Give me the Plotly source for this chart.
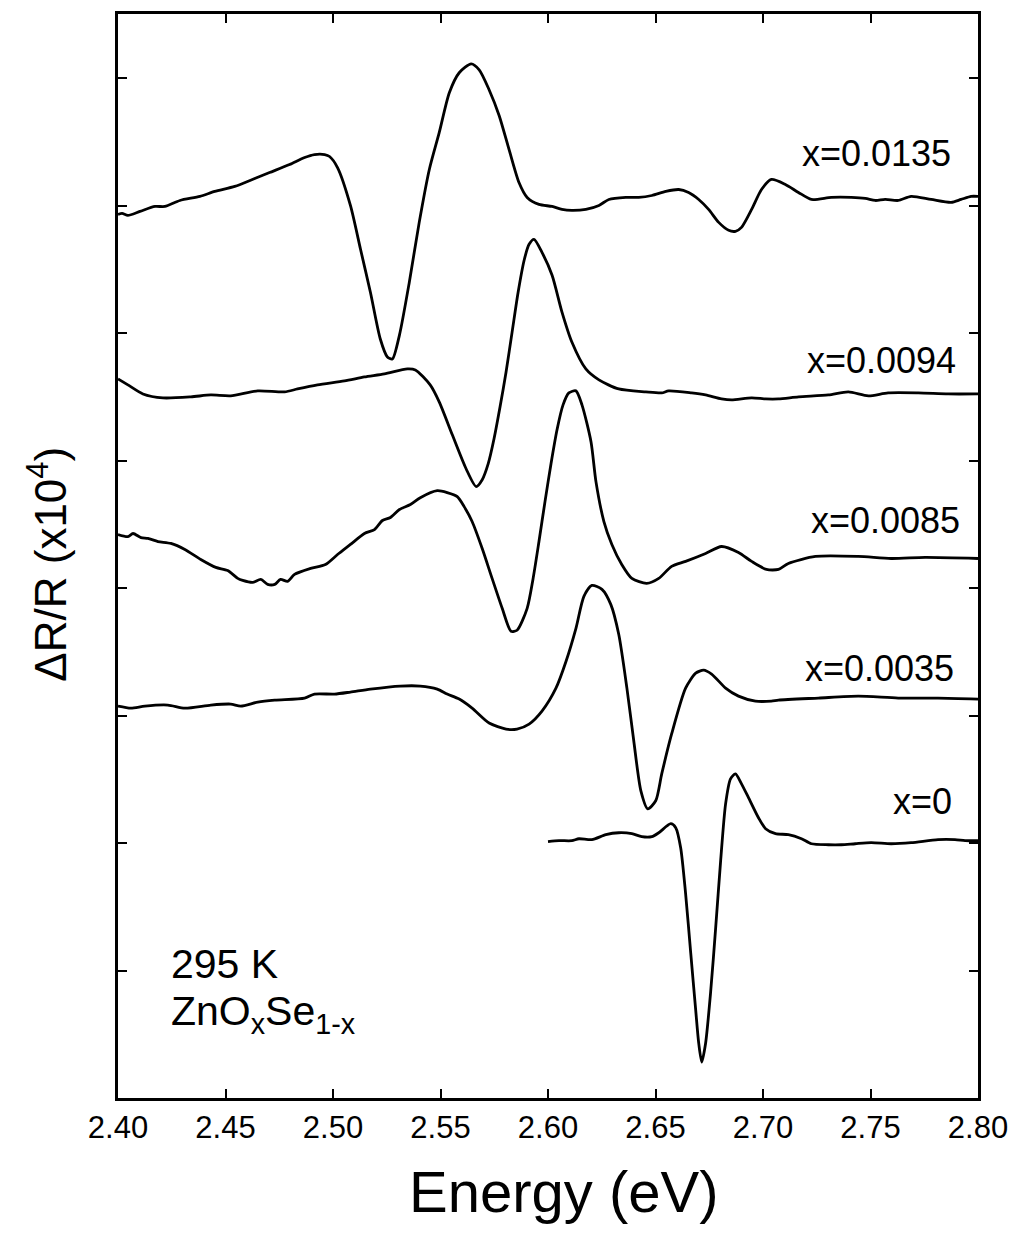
import plotly.graph_objects as go

# ---- data (Energy in eV, ΔR/R offset-stacked, arbitrary units x1e4) ----
e_0135 = [2.4000,2.4019,2.4046,2.4102,2.4172,2.4218,2.4288,2.4381,2.4450,2.4543,2.4636,2.4705,2.4798,2.4868,
          2.4914,2.4961,2.4984,2.5021,2.5081,2.5128,2.5174,2.5220,2.5253,2.5276,2.5309,2.5355,2.5401,2.5448,
          2.5494,2.5541,2.5587,2.5643,2.5680,2.5726,2.5773,2.5819,2.5865,2.5903,2.5958,2.6019,2.6065,2.6111,
          2.6176,2.6237,2.6283,2.6362,2.6422,2.6483,2.6548,2.6608,2.6654,2.6701,2.6747,2.6794,2.6840,2.6872,
          2.6900,2.6947,2.6993,2.7039,2.7104,2.7165,2.7225,2.7318,2.7411,2.7476,2.7522,2.7568,2.7629,2.7689,
          2.7782,2.7875,2.7921,2.7968,2.8000]
r_0135 = [6.933,6.940,6.925,6.956,6.995,6.995,7.042,7.074,7.113,7.152,7.214,7.261,7.324,7.379,
          7.402,7.402,7.387,7.300,7.003,6.659,6.322,5.955,5.814,5.798,5.986,6.401,6.870,7.285,
          7.574,7.887,8.044,8.114,8.067,7.911,7.707,7.441,7.183,7.066,7.011,6.995,6.972,6.964,
          6.972,7.003,7.050,7.066,7.066,7.081,7.113,7.128,7.105,7.050,6.972,6.870,6.808,6.800,
          6.831,6.972,7.128,7.207,7.168,7.105,7.050,7.066,7.066,7.058,7.042,7.050,7.042,7.074,
          7.050,7.027,7.050,7.074,7.074]

e_0094 = [2.4000,2.4046,2.4116,2.4209,2.4339,2.4432,2.4524,2.4650,2.4775,2.4835,2.4928,2.5053,2.5146,2.5239,
          2.5346,2.5383,2.5452,2.5494,2.5555,2.5619,2.5666,2.5694,2.5722,2.5749,2.5777,2.5805,2.5833,2.5861,
          2.5889,2.5912,2.5935,2.5972,2.6019,2.6065,2.6111,2.6176,2.6237,2.6329,2.6455,2.6529,2.6561,2.6668,
          2.6733,2.6807,2.6854,2.6947,2.7012,2.7072,2.7165,2.7304,2.7397,2.7490,2.7582,2.7722,2.7861,2.8000]
r_0094 = [5.642,5.595,5.524,5.493,5.501,5.516,5.509,5.548,5.540,5.563,5.595,5.626,5.657,5.681,
          5.720,5.712,5.595,5.462,5.203,4.937,4.797,4.851,4.977,5.172,5.423,5.696,6.009,6.322,
          6.573,6.698,6.737,6.635,6.455,6.166,5.931,5.720,5.634,5.563,5.540,5.532,5.548,5.532,
          5.516,5.485,5.477,5.493,5.485,5.485,5.501,5.516,5.540,5.509,5.532,5.532,5.524,5.524]

e_0085 = [2.4000,2.4046,2.4070,2.4107,2.4139,2.4186,2.4246,2.4311,2.4385,2.4455,2.4510,2.4557,2.4580,2.4626,
          2.4664,2.4696,2.4729,2.4756,2.4789,2.4821,2.4896,2.4965,2.5021,2.5081,2.5146,2.5193,2.5230,2.5267,
          2.5309,2.5360,2.5406,2.5485,2.5531,2.5578,2.5610,2.5647,2.5694,2.5740,2.5787,2.5828,2.5856,2.5903,
          2.5930,2.5958,2.5986,2.6014,2.6042,2.6070,2.6097,2.6130,2.6158,2.6200,2.6223,2.6260,2.6297,2.6343,
          2.6390,2.6459,2.6515,2.6575,2.6640,2.6733,2.6807,2.6886,2.6947,2.7016,2.7072,2.7118,2.7244,2.7443,
          2.7596,2.7754,2.8000]
r_0085 = [4.421,4.405,4.429,4.397,4.390,4.366,4.351,4.304,4.225,4.163,4.139,4.077,4.061,4.045,
          4.069,4.030,4.030,4.069,4.053,4.108,4.155,4.186,4.264,4.343,4.429,4.460,4.531,4.554,
          4.617,4.656,4.710,4.765,4.750,4.718,4.640,4.523,4.311,4.077,3.842,3.662,3.670,3.842,
          4.069,4.366,4.679,4.977,5.243,5.438,5.532,5.548,5.438,5.149,4.836,4.523,4.343,4.186,
          4.077,4.038,4.077,4.171,4.210,4.272,4.327,4.280,4.210,4.147,4.147,4.194,4.249,4.249,
          4.233,4.241,4.233]

e_0035 = [2.4000,2.4060,2.4125,2.4232,2.4311,2.4432,2.4524,2.4571,2.4650,2.4729,2.4868,2.4914,2.5007,2.5081,
          2.5174,2.5313,2.5406,2.5485,2.5531,2.5587,2.5647,2.5726,2.5805,2.5856,2.5912,2.5972,2.6037,2.6084,
          2.6130,2.6167,2.6204,2.6251,2.6292,2.6329,2.6367,2.6399,2.6432,2.6464,2.6501,2.6529,2.6575,2.6640,
          2.6687,2.6724,2.6761,2.6826,2.6886,2.6965,2.7039,2.7072,2.7258,2.7443,2.7629,2.7814,2.8000]
r_0035 = [3.075,3.059,3.075,3.083,3.059,3.083,3.091,3.075,3.106,3.122,3.138,3.169,3.169,3.185,
          3.208,3.232,3.232,3.208,3.169,3.130,3.059,2.942,2.895,2.895,2.934,3.036,3.216,3.427,
          3.685,3.936,4.022,3.991,3.873,3.638,3.216,2.801,2.410,2.269,2.332,2.543,2.856,3.216,
          3.333,3.357,3.326,3.216,3.153,3.114,3.114,3.122,3.138,3.153,3.138,3.138,3.130]

e_0 = [2.6000,2.6051,2.6111,2.6144,2.6204,2.6269,2.6329,2.6390,2.6436,2.6483,2.6515,2.6571,2.6594,2.6617,
       2.6640,2.6664,2.6687,2.6701,2.6715,2.6733,2.6756,2.6780,2.6803,2.6826,2.6849,2.6872,2.6900,2.6933,
       2.6979,2.7012,2.7058,2.7118,2.7179,2.7225,2.7304,2.7364,2.7429,2.7503,2.7596,2.7689,2.7814,2.7893,
       2.7940,2.8000]
r_0 = [2.011,2.019,2.019,2.034,2.027,2.066,2.081,2.074,2.050,2.050,2.081,2.152,2.121,1.964,
       1.604,1.135,0.689,0.430,0.282,0.430,0.822,1.338,1.862,2.308,2.504,2.543,2.465,2.355,
       2.199,2.113,2.074,2.066,2.034,1.995,1.987,1.987,1.995,2.003,1.995,2.003,2.027,2.027,
       2.019,2.019]

series = [
    ("x=0.0135", e_0135, r_0135),
    ("x=0.0094", e_0094, r_0094),
    ("x=0.0085", e_0085, r_0085),
    ("x=0.0035", e_0035, r_0035),
    ("x=0", e_0, r_0),
]

x_ticks = [2.40, 2.45, 2.50, 2.55, 2.60, 2.65, 2.70, 2.75, 2.80]
y_ticks = [1, 2, 3, 4, 5, 6, 7, 8]

FONT = "Liberation Sans, Arial, Helvetica, sans-serif"

fig = go.Figure()
for name, e, r in series:
    fig.add_trace(go.Scatter(x=e, y=r, mode="lines", name=name,
                             line=dict(color="black", width=2.8, shape="spline", smoothing=0.7),
                             showlegend=False))

# curve labels
labels = [("x=0.0135", 2.7527, 7.41), ("x=0.0094", 2.755, 5.79), ("x=0.0085", 2.757, 4.53),
          ("x=0.0035", 2.754, 3.37), ("x=0", 2.774, 2.33)]
for txt, lx, ly in labels:
    fig.add_annotation(x=lx, y=ly, xref="x", yref="y", text=txt, showarrow=False,
                       font=dict(family=FONT, size=36, color="black"), xanchor="center", yanchor="middle")

fig.add_annotation(x=2.4236, y=1.05, xref="x", yref="y", text="295 K", showarrow=False,
                   font=dict(family=FONT, size=41, color="black"), xanchor="left", yanchor="middle")
fig.add_annotation(x=2.4236, y=0.66, xref="x", yref="y", text="ZnO<sub>x</sub>Se<sub>1-x</sub>", showarrow=False,
                   font=dict(family=FONT, size=41, color="black"), xanchor="left", yanchor="middle")

# axis titles (paper coords relative to plot area: x 118..980 px, y 11..1098 px)
fig.add_annotation(x=(565 - 118) / 862, y=(1098 - 1192) / 1087, xref="paper", yref="paper",
                   text="Energy (eV)", showarrow=False,
                   font=dict(family=FONT, size=58, color="black"),
                   xanchor="center", yanchor="middle")
fig.add_annotation(x=(47 - 118) / 862, y=(1098 - 563) / 1087, xref="paper", yref="paper",
                   text="ΔR/R (x10<sup>4</sup>)", showarrow=False, textangle=-90,
                   font=dict(family=FONT, size=44, color="black"),
                   xanchor="center", yanchor="middle")

fig.update_xaxes(range=[2.40, 2.80], tickvals=x_ticks, ticktext=[f"{v:.2f}" for v in x_ticks],
                 ticks="inside", ticklen=9, tickwidth=2, tickcolor="black",
                 showline=True, linewidth=3, linecolor="black", mirror="ticks",
                 showgrid=False, zeroline=False,
                 tickfont=dict(family=FONT, size=31, color="black"))
fig.update_yaxes(range=[0, 8.505], tickvals=y_ticks, showticklabels=False,
                 ticks="inside", ticklen=9, tickwidth=2, tickcolor="black",
                 showline=True, linewidth=3, linecolor="black", mirror="ticks",
                 showgrid=False, zeroline=False)

fig.update_layout(width=1019, height=1238, margin=dict(l=118, r=39, t=11, b=140),
                  plot_bgcolor="white", paper_bgcolor="white")

fig.write_html("out.html")
